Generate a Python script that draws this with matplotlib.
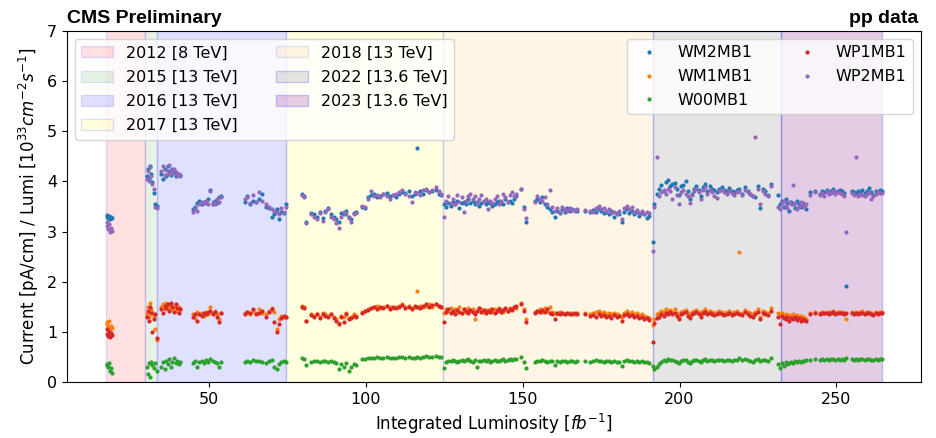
import matplotlib
matplotlib.use("Agg")
import matplotlib.pyplot as plt

# ---- data ----
lumi = [
    # 2012
    17.3, 17.6, 17.9, 18.2, 18.5, 18.8, 19.0,
    # 2015
    30.3, 30.6, 30.9, 31.2, 31.5, 31.8, 32.3, 32.8, 33.3,
    # 2016
    34.8, 35.3, 35.8, 36.3, 36.8, 37.3, 37.8, 38.3, 38.8, 39.3, 39.8, 40.3, 40.8,
    44.8, 45.5, 46.2, 46.9, 47.6, 48.3, 49.0, 49.7, 50.4, 51.1, 51.8, 52.5, 53.2, 53.9,
    61.3, 62.0, 63.0, 64.0, 65.0, 66.0, 67.0, 68.0, 69.0, 70.0, 70.8, 71.5, 72.2, 73.0, 73.8, 74.6,
    # 2017
    79.5, 80.2, 81.0, 82.6, 83.5, 84.4, 85.3, 86.2, 87.1, 88.0, 88.9, 89.8, 90.6, 91.4, 92.2, 93.0,
    93.8, 94.6, 95.4, 96.2, 97.0, 98.6, 99.6, 100.6, 101.6, 102.6, 103.6, 104.6, 105.6, 106.6, 107.6, 108.6,
    109.6, 110.6, 111.6, 112.6, 113.6, 114.6, 115.6, 116.3, 117.2, 118.2, 119.2, 120.2, 121.2, 122.2, 123.2, 124.0,
    # 2018
    125.0, 125.6, 126.3, 127.0, 127.7, 128.4, 129.1, 129.8, 130.5, 131.2, 131.9, 132.6, 133.3, 134.0, 134.7, 135.4, 136.1,
    136.8, 137.5, 138.2, 138.9, 139.6, 140.3, 141.0, 141.7, 142.4, 143.1, 143.8, 144.5, 145.2, 145.9, 146.6, 147.3, 148.0,
    149.6, 150.5, 150.9,
    153.8, 154.6, 155.4, 156.2, 157.0, 157.8, 158.6, 159.4, 160.2, 161.0, 161.8, 162.6, 163.4, 164.2, 165.0, 165.8, 166.6, 167.4,
    170.0, 171.5, 172.5, 173.5, 174.3, 175.1, 175.9, 176.7, 177.5, 178.3, 179.1, 179.9, 180.7, 181.5, 182.3, 183.1, 183.9,
    184.7, 185.5, 186.3, 187.1, 187.9, 188.7, 189.5, 190.3,
    # 2022
    191.4, 192.0, 192.8,
    193.5, 194.2, 194.9, 195.6, 196.3, 197.0, 197.7, 198.4, 199.1, 199.8, 200.5, 201.2, 201.9, 202.6, 203.3, 204.0,
    204.7, 205.4, 206.1, 206.8, 207.5, 208.2, 208.9, 209.6, 210.3, 211.0, 211.8, 212.6, 213.4, 214.2, 215.0, 215.8,
    216.6, 217.4, 218.2, 219.1, 220.0, 221.0, 221.8, 222.6, 223.4, 224.2, 225.0, 225.8, 226.6, 227.4, 228.2, 229.2,
    # 2023
    231.4, 232.0, 232.6, 233.2, 233.8, 234.4, 235.0, 235.6, 236.2, 236.8, 237.4, 238.0, 238.6, 239.2, 239.8, 240.4,
    241.6, 243.3, 244.8, 245.5, 246.2, 246.9, 247.6, 248.3, 249.0, 249.7, 250.4, 251.1, 251.8, 252.5, 253.1,
    254.9, 255.6, 256.2, 256.9, 257.6, 258.3, 259.0, 259.7, 260.4, 261.1, 261.8, 262.5, 263.2, 263.9, 264.4,
]

WM2MB1 = [
    3.30, 3.33, 3.28, 3.32, 3.25, 3.30, 3.27,
    4.10, 4.25, 4.05, 4.30, 4.15, 3.98, 3.77, 3.55, 3.52,
    4.15, 4.05, 4.25, 4.10, 4.30, 4.20, 4.12, 4.25, 4.18, 4.10, 4.15, 4.12, 4.12,
    3.45, 3.50, 3.58, 3.62, 3.55, 3.60, 3.58, 3.65, 3.82, 3.55, 3.62, 3.58, 3.68, 3.70,
    3.60, 3.70, 3.55, 3.62, 3.60, 3.65, 3.75, 3.50, 3.48, 3.30, 3.35, 3.45, 3.25, 3.40, 3.38, 3.55,
    3.75, 3.70, 3.20, 3.38, 3.35, 3.30, 3.40, 3.28, 3.42, 3.48, 3.35, 3.30, 3.25, 3.20, 3.38, 3.35,
    3.42, 3.30, 3.25, 3.38, 3.40, 3.50, 3.48, 3.68, 3.72, 3.75, 3.68, 3.70, 3.74, 3.76, 3.70, 3.72,
    3.68, 3.75, 3.78, 3.76, 3.80, 3.70, 3.75, 4.66, 3.80, 3.75, 3.82, 3.78, 3.80, 3.82, 3.75, 3.72,
    3.55, 3.50, 3.58, 3.52, 3.60, 3.55, 3.62, 3.48, 3.58, 3.60, 3.55, 3.65, 3.58, 3.62, 3.55, 3.60, 3.52,
    3.58, 3.62, 3.55, 3.60, 3.58, 3.52, 3.55, 3.60, 3.62, 3.58, 3.55, 3.65, 3.60, 3.62, 3.58, 3.65, 3.70,
    3.85, 3.50, 3.20,
    3.62, 3.65, 3.60, 3.68, 3.55, 3.50, 3.45, 3.40, 3.30, 3.42, 3.38, 3.45, 3.40, 3.48, 3.42, 3.45, 3.44, 3.42,
    3.42, 3.40, 3.44, 3.40, 3.45, 3.42, 3.38, 3.40, 3.35, 3.42, 3.30, 3.38, 3.35, 3.20, 3.40, 3.45, 3.38,
    3.42, 3.35, 3.40, 3.32, 3.38, 3.35, 3.28, 3.32,
    2.80, 3.55, 3.75,
    3.85, 3.92, 3.80, 3.98, 4.02, 3.90, 3.95, 3.97, 3.85, 3.72, 3.90, 3.92, 4.00, 3.80, 3.65, 3.75,
    3.85, 3.90, 3.82, 3.70, 3.88, 3.95, 3.80, 3.90, 3.85, 3.82, 3.78, 3.85, 3.88, 3.82, 3.80, 3.86,
    3.80, 3.78, 3.82, 3.85, 3.75, 3.88, 3.80, 3.75, 3.70, 3.68, 3.90, 3.47, 3.85, 3.80, 3.72, 3.95,
    3.72, 3.55, 3.62, 3.50, 3.65, 3.58, 3.42, 3.60, 3.55, 3.48, 3.62, 3.55, 3.50, 3.58, 3.52, 3.45,
    3.78, 3.80, 3.75, 3.80, 3.78, 3.82, 3.76, 3.80, 3.84, 3.78, 3.80, 3.82, 3.80, 3.76, 1.92,
    3.80, 3.78, 3.76, 3.80, 3.78, 3.82, 3.76, 3.80, 3.86, 3.78, 3.72, 3.80, 3.78, 3.82, 3.80,
]

WM1MB1 = [
    1.20, 1.15, 1.10, 1.22, 1.05, 1.12, 1.08,
    1.35, 1.50, 1.30, 1.58, 1.45, 1.40, 1.32, 1.05, 0.84,
    1.50, 1.55, 1.45, 1.58, 1.48, 1.52, 1.55, 1.45, 1.50, 1.48, 1.42, 1.50, 1.46,
    1.35, 1.28, 1.40, 1.35, 1.38, 1.32, 1.40, 1.35, 1.50, 1.38, 1.42, 1.35, 1.25, 1.38,
    1.38, 1.40, 1.35, 1.42, 1.38, 1.45, 1.38, 1.35, 1.42, 1.48, 1.40, 1.05, 1.25, 1.32, 1.30, 1.30,
    1.52, 1.50, 1.22, 1.35, 1.32, 1.35, 1.30, 1.38, 1.35, 1.32, 1.36, 1.30, 1.25, 1.18, 1.32, 1.30,
    1.38, 1.28, 1.30, 1.35, 1.32, 1.40, 1.42, 1.45, 1.48, 1.50, 1.52, 1.48, 1.50, 1.52, 1.50, 1.48,
    1.50, 1.52, 1.55, 1.50, 1.52, 1.48, 1.50, 1.82, 1.52, 1.50, 1.52, 1.55, 1.50, 1.55, 1.52, 1.50,
    1.38, 1.45, 1.42, 1.48, 1.40, 1.45, 1.42, 1.50, 1.38, 1.45, 1.40, 1.48, 1.42, 1.45, 1.25, 1.42, 1.48,
    1.45, 1.40, 1.44, 1.42, 1.46, 1.40, 1.45, 1.42, 1.48, 1.44, 1.40, 1.46, 1.42, 1.48, 1.45, 1.50, 1.48,
    1.58, 1.45, 1.25,
    1.40, 1.42, 1.45, 1.40, 1.48, 1.42, 1.50, 1.40, 1.38, 1.36, 1.40, 1.38, 1.36, 1.38, 1.37, 1.38, 1.36, 1.37,
    1.38, 1.36, 1.38, 1.40, 1.42, 1.38, 1.40, 1.36, 1.38, 1.35, 1.38, 1.36, 1.34, 1.30, 1.38, 1.42, 1.38,
    1.40, 1.36, 1.38, 1.34, 1.36, 1.32, 1.30, 1.28,
    1.14, 1.25, 1.35,
    1.38, 1.42, 1.40, 1.45, 1.42, 1.44, 1.40, 1.46, 1.38, 1.30, 1.40, 1.42, 1.44, 1.38, 1.32, 1.40,
    1.42, 1.44, 1.40, 1.36, 1.42, 1.45, 1.40, 1.42, 1.40, 1.38, 1.40, 1.42, 1.40, 1.38, 1.40, 1.42,
    1.38, 1.40, 1.42, 2.60, 1.38, 1.44, 1.40, 1.38, 1.36, 1.40, 1.45, 1.30, 1.42, 1.40, 1.38, 1.48,
    1.38, 1.35, 1.38, 1.32, 1.36, 1.30, 1.34, 1.32, 1.36, 1.30, 1.33, 1.30, 1.32, 1.30, 1.28, 1.26,
    1.38, 1.40, 1.38, 1.40, 1.38, 1.40, 1.39, 1.40, 1.42, 1.38, 1.40, 1.39, 1.40, 1.38, 1.25,
    1.40, 1.38, 1.40, 1.38, 1.40, 1.42, 1.38, 1.40, 1.40, 1.38, 1.36, 1.40, 1.38, 1.40, 1.39,
]

W00MB1 = [
    0.36, 0.33, 0.30, 0.38, 0.22, 0.28, 0.18,
    0.30, 0.15, 0.38, 0.10, 0.40, 0.33, 0.28, 0.38, 0.22,
    0.30, 0.40, 0.25, 0.42, 0.35, 0.45, 0.30, 0.40, 0.48, 0.38, 0.42, 0.35, 0.40,
    0.38, 0.42, 0.30, 0.40, 0.42, 0.38, 0.44, 0.40, 0.45, 0.42, 0.40, 0.38, 0.30, 0.40,
    0.40, 0.42, 0.40, 0.43, 0.41, 0.42, 0.40, 0.38, 0.42, 0.44, 0.30, 0.25, 0.35, 0.40, 0.42, 0.40,
    0.47, 0.45, 0.33, 0.40, 0.42, 0.41, 0.40, 0.42, 0.41, 0.40, 0.42, 0.40, 0.38, 0.25, 0.35, 0.30,
    0.38, 0.22, 0.30, 0.36, 0.33, 0.45, 0.46, 0.47, 0.48, 0.47, 0.49, 0.48, 0.47, 0.49, 0.48, 0.47,
    0.48, 0.49, 0.50, 0.48, 0.49, 0.47, 0.48, 0.49, 0.48, 0.50, 0.51, 0.49, 0.50, 0.51, 0.50, 0.49,
    0.28, 0.40, 0.42, 0.41, 0.43, 0.42, 0.40, 0.42, 0.44, 0.41, 0.43, 0.45, 0.42, 0.40, 0.43, 0.30, 0.42,
    0.41, 0.43, 0.42, 0.44, 0.40, 0.42, 0.43, 0.41, 0.42, 0.44, 0.45, 0.42, 0.43, 0.45, 0.44, 0.46, 0.45,
    0.50, 0.40, 0.28,
    0.40, 0.42, 0.41, 0.43, 0.42, 0.40, 0.42, 0.41, 0.33, 0.42, 0.40, 0.41, 0.42, 0.40, 0.41, 0.42, 0.40, 0.41,
    0.41, 0.40, 0.42, 0.43, 0.41, 0.42, 0.40, 0.41, 0.42, 0.40, 0.41, 0.39, 0.40, 0.32, 0.41, 0.43, 0.42,
    0.41, 0.40, 0.42, 0.40, 0.41, 0.39, 0.40, 0.38,
    0.32, 0.25, 0.30,
    0.35, 0.40, 0.44, 0.42, 0.45, 0.43, 0.44, 0.42, 0.40, 0.38, 0.42, 0.44, 0.43, 0.40, 0.38, 0.42,
    0.43, 0.44, 0.42, 0.40, 0.43, 0.45, 0.42, 0.44, 0.43, 0.42, 0.43, 0.44, 0.43, 0.42, 0.43, 0.44,
    0.42, 0.43, 0.44, 0.48, 0.43, 0.45, 0.44, 0.42, 0.40, 0.43, 0.46, 0.42, 0.44, 0.43, 0.42, 0.47,
    0.35, 0.28, 0.38, 0.32, 0.40, 0.36, 0.38, 0.40, 0.38, 0.41, 0.40, 0.42, 0.40, 0.41, 0.42, 0.43,
    0.44, 0.45, 0.44, 0.45, 0.44, 0.45, 0.44, 0.45, 0.46, 0.44, 0.45, 0.44, 0.45, 0.44, 0.47,
    0.45, 0.44, 0.45, 0.44, 0.45, 0.46, 0.44, 0.45, 0.45, 0.44, 0.43, 0.45, 0.44, 0.45, 0.45,
]

WP1MB1 = [
    1.05, 0.95, 0.92, 1.00, 0.90, 0.97, 0.93,
    1.30, 1.42, 1.22, 1.50, 1.38, 1.00, 1.25, 1.35, 0.88,
    1.45, 1.38, 1.52, 1.48, 1.55, 1.42, 1.58, 1.50, 1.40, 1.55, 1.48, 1.38, 1.45,
    1.30, 1.35, 1.22, 1.35, 1.32, 1.38, 1.36, 1.40, 1.42, 1.35, 1.40, 1.30, 1.20, 1.38,
    1.35, 1.40, 1.38, 1.45, 1.36, 1.38, 1.42, 1.30, 1.40, 1.45, 1.20, 1.00, 1.15, 1.28, 1.32, 1.30,
    1.50, 1.48, 1.22, 1.33, 1.30, 1.36, 1.28, 1.35, 1.32, 1.30, 1.35, 1.28, 1.22, 1.15, 1.30, 1.20,
    1.35, 1.25, 1.28, 1.32, 1.30, 1.38, 1.42, 1.44, 1.48, 1.50, 1.46, 1.50, 1.48, 1.52, 1.45, 1.50,
    1.48, 1.50, 1.53, 1.48, 1.50, 1.45, 1.52, 1.50, 1.48, 1.52, 1.55, 1.50, 1.53, 1.56, 1.52, 1.50,
    1.20, 1.40, 1.45, 1.38, 1.42, 1.35, 1.44, 1.40, 1.38, 1.46, 1.42, 1.38, 1.44, 1.40, 1.36, 1.42, 1.48,
    1.40, 1.44, 1.38, 1.42, 1.40, 1.45, 1.38, 1.42, 1.46, 1.40, 1.44, 1.48, 1.42, 1.46, 1.44, 1.50, 1.52,
    1.55, 1.42, 1.20,
    1.38, 1.42, 1.40, 1.44, 1.40, 1.45, 1.38, 1.35, 1.25, 1.38, 1.35, 1.38, 1.36, 1.38, 1.35, 1.36, 1.37, 1.36,
    1.35, 1.32, 1.34, 1.30, 1.36, 1.32, 1.34, 1.30, 1.32, 1.28, 1.34, 1.30, 1.32, 1.22, 1.34, 1.36, 1.32,
    1.34, 1.30, 1.32, 1.28, 1.30, 1.26, 1.28, 1.24,
    0.80, 1.18, 1.28,
    1.30, 1.35, 1.32, 1.38, 1.35, 1.40, 1.36, 1.38, 1.32, 1.25, 1.35, 1.38, 1.40, 1.32, 1.28, 1.36,
    1.38, 1.40, 1.36, 1.30, 1.38, 1.40, 1.35, 1.38, 1.36, 1.34, 1.35, 1.38, 1.36, 1.34, 1.35, 1.38,
    1.34, 1.36, 1.38, 1.36, 1.34, 1.40, 1.36, 1.32, 1.30, 1.36, 1.40, 1.25, 1.38, 1.36, 1.34, 1.42,
    1.30, 1.16, 1.32, 1.28, 1.25, 1.30, 1.22, 1.28, 1.25, 1.30, 1.24, 1.28, 1.22, 1.26, 1.24, 1.22,
    1.36, 1.38, 1.36, 1.38, 1.37, 1.38, 1.36, 1.38, 1.40, 1.36, 1.38, 1.37, 1.38, 1.36, 1.38,
    1.38, 1.36, 1.38, 1.36, 1.37, 1.38, 1.36, 1.38, 1.38, 1.36, 1.34, 1.37, 1.36, 1.38, 1.37,
]

WP2MB1 = [
    3.20, 3.12, 3.05, 3.15, 3.00, 3.08, 3.02,
    4.05, 4.20, 4.00, 4.28, 4.10, 3.95, 3.85, 3.50, 3.48,
    4.20, 4.30, 4.12, 4.22, 4.15, 4.33, 4.20, 4.15, 4.25, 4.18, 4.12, 4.15, 4.10,
    3.40, 3.48, 3.42, 3.55, 3.60, 3.58, 3.62, 3.55, 3.80, 3.60, 3.55, 3.65, 3.60, 3.68,
    3.65, 3.68, 3.58, 3.72, 3.60, 3.78, 3.62, 3.55, 3.50, 3.45, 3.42, 3.40, 3.35, 3.48, 3.40, 3.50,
    3.72, 3.68, 3.17, 3.35, 3.30, 3.25, 3.38, 3.22, 3.40, 3.45, 3.30, 3.25, 3.18, 3.08, 3.30, 3.40,
    3.35, 3.28, 3.20, 3.35, 3.38, 3.52, 3.50, 3.65, 3.80, 3.70, 3.72, 3.68, 3.74, 3.70, 3.65, 3.72,
    3.75, 3.78, 3.82, 3.75, 3.70, 3.60, 3.78, 3.76, 3.72, 3.82, 3.85, 3.78, 3.82, 3.88, 3.80, 3.75,
    3.30, 3.62, 3.70, 3.58, 3.65, 3.55, 3.72, 3.60, 3.68, 3.40, 3.62, 3.70, 3.75, 3.65, 3.70, 3.58, 3.65,
    3.72, 3.60, 3.65, 3.45, 3.62, 3.58, 3.65, 3.70, 3.55, 3.62, 3.75, 3.68, 3.60, 3.72, 3.78, 3.70, 3.75,
    3.85, 3.45, 3.28,
    3.60, 3.70, 3.65, 3.62, 3.68, 3.55, 3.82, 3.50, 3.42, 3.48, 3.40, 3.50, 3.45, 3.42, 3.48, 3.44, 3.42, 3.45,
    3.44, 3.42, 3.40, 3.48, 3.52, 3.45, 3.48, 3.42, 3.45, 3.38, 3.40, 3.35, 3.42, 3.25, 3.48, 3.52, 3.45,
    3.50, 3.40, 3.44, 3.38, 3.42, 3.36, 3.40, 3.38,
    2.62, 3.50, 4.48,
    3.70, 3.78, 3.82, 3.75, 3.85, 3.80, 3.65, 3.88, 3.72, 3.55, 3.78, 3.82, 3.75, 3.70, 3.58, 3.72,
    3.80, 3.85, 3.78, 3.65, 3.82, 3.88, 3.75, 3.82, 3.78, 3.70, 3.66, 3.80, 3.82, 3.78, 3.75, 3.80,
    3.76, 3.72, 3.78, 3.80, 3.72, 3.82, 3.78, 3.75, 3.70, 4.88, 3.85, 3.55, 3.80, 3.75, 3.70, 3.90,
    3.50, 3.45, 3.58, 3.62, 3.52, 3.48, 3.60, 3.55, 3.93, 3.58, 3.45, 3.52, 3.60, 3.55, 3.50, 3.55,
    3.72, 3.78, 3.72, 3.76, 3.70, 3.78, 3.74, 3.76, 3.80, 3.74, 3.78, 3.76, 3.74, 3.70, 3.00,
    3.76, 3.72, 4.48, 3.70, 3.74, 3.72, 3.70, 3.74, 3.76, 3.65, 3.70, 3.74, 3.78, 3.76, 3.76,
]

series_names = ["WM2MB1", "WM1MB1", "W00MB1", "WP1MB1", "WP2MB1"]
series_values = [WM2MB1, WM1MB1, W00MB1, WP1MB1, WP2MB1]

period_labels = ["2012 [8 TeV]", "2015 [13 TeV]", "2016 [13 TeV]", "2017 [13 TeV]",
                 "2018 [13 TeV]", "2022 [13.6 TeV]", "2023 [13.6 TeV]"]
period_start = [17.1, 29.6, 33.5, 74.5, 124.5, 191.4, 232.3]
period_end = [29.6, 33.5, 74.5, 124.5, 191.4, 232.3, 264.6]
period_colors = ["red", "green", "blue", "yellow", "orange", "gray", "purple"]
period_alpha = [0.12, 0.1, 0.12, 0.12, 0.1, 0.2, 0.2]

# ---- figure ----
fig = plt.figure(figsize=(9.37, 4.38), dpi=100)
ax = fig.add_axes([0.0715, 0.128, 0.9115, 0.801])

span_handles = []
for lab, x0, x1, c, a in zip(period_labels, period_start, period_end, period_colors, period_alpha):
    h = ax.axvspan(x0, x1, facecolor=c, edgecolor="blue", alpha=a, lw=1, label=lab)
    span_handles.append(h)

pt_handles = []
for i, (name, vals) in enumerate(zip(series_names, series_values)):
    (h,) = ax.plot(lumi, vals, ".", color=f"C{i}", ms=4, label=name, linestyle="none")
    pt_handles.append(h)

ax.set_xlim(4.7, 277.0)
ax.set_ylim(0, 7)
ax.set_xticks([50, 100, 150, 200, 250])
ax.set_yticks(range(0, 8))
ax.tick_params(labelsize=11.5)

ax.set_xlabel(r"Integrated Luminosity [$fb^{-1}$]", fontsize=12)
ax.set_ylabel(r"Current [pA/cm] / Lumi [$10^{33}cm^{-2}s^{-1}$]", fontsize=12)

leg1 = ax.legend(handles=span_handles, loc="upper left", ncol=2, fontsize=11.5,
                 labelspacing=0.58, columnspacing=2.4)
ax.add_artist(leg1)
ax.legend(handles=pt_handles, loc="upper right", ncol=2, fontsize=11.5,
          labelspacing=0.55, columnspacing=2.4)

ax.text(0.0, 1.012, "CMS Preliminary", transform=ax.transAxes, ha="left", va="bottom",
        fontsize=14, fontweight="bold", family="Liberation Sans")
ax.text(0.997, 1.012, "pp data", transform=ax.transAxes, ha="right", va="bottom",
        fontsize=14, fontweight="bold", family="Liberation Sans")

fig.savefig("out.png", dpi=100)
